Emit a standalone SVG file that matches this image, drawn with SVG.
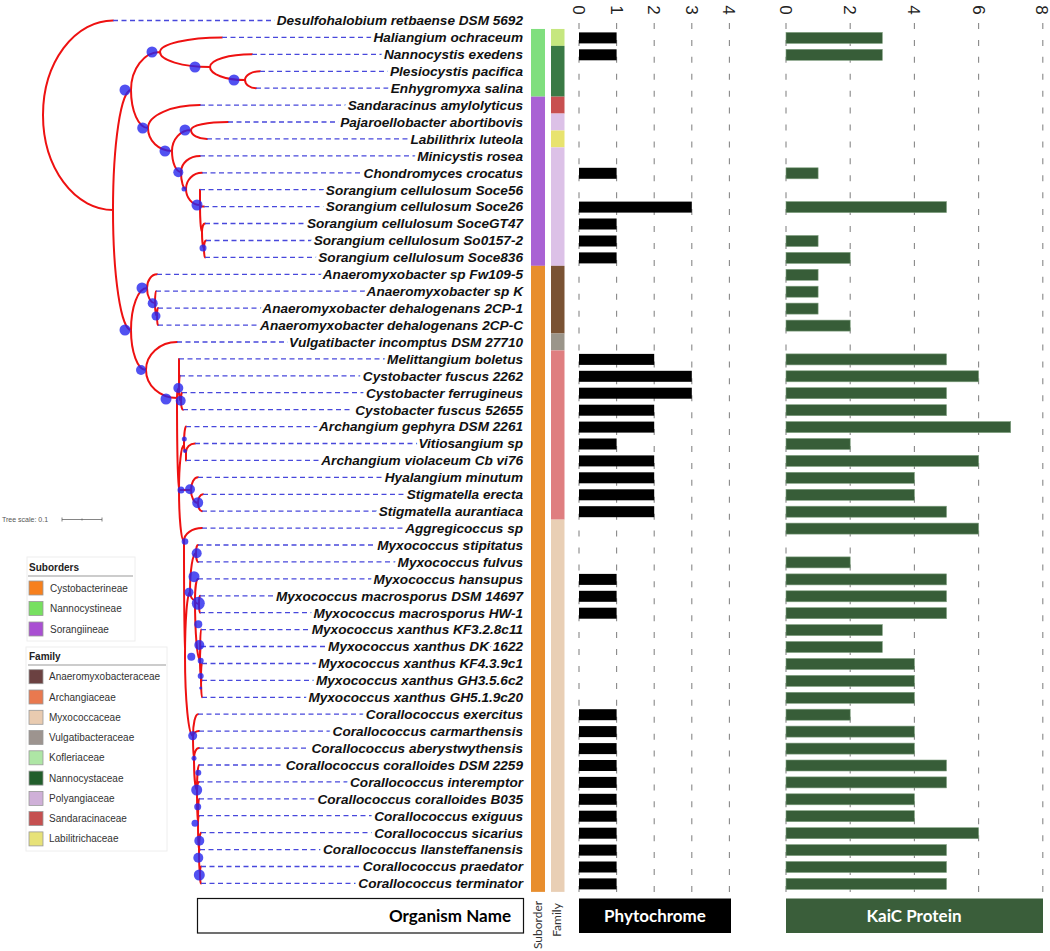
<svg xmlns="http://www.w3.org/2000/svg" width="1050" height="951" viewBox="0 0 1050 951">
<style>
.br{fill:none;stroke:#ee1111;stroke-width:2;stroke-linecap:round}
.bs{fill:#2626ee;fill-opacity:.8}
.lf{fill:none;stroke:#4848dc;stroke-width:1.3;stroke-dasharray:5 3.5}
.lb{font-family:"Liberation Sans",Arial,sans-serif;font-weight:bold;font-style:italic;font-size:13.6px;text-anchor:end;fill:#111;paint-order:stroke;stroke:#fff;stroke-width:7;stroke-linejoin:round}
.gr{stroke:#888;stroke-width:1.1;stroke-dasharray:6 10.92}
.ax{font-family:"Liberation Sans",Arial,sans-serif;font-size:17px;fill:#222;text-anchor:middle}
.ph{fill:#000;height:11px}
.kc{fill:#375d38;stroke:#7f9f7f;stroke-width:.6;height:11px}
.lg{font-family:"Liberation Sans",Arial,sans-serif;font-size:10px;fill:#333}
.lt{font-family:"Liberation Sans",Arial,sans-serif;font-size:10px;font-weight:bold;fill:#222}
.sw{stroke:#999;stroke-width:.8}
.hd{font-family:Lato,"Open Sans",sans-serif;font-weight:bold;font-size:17px}
.sm{font-family:Lato,"Open Sans",sans-serif;font-size:12px;fill:#333;text-anchor:middle}
</style>

<!-- axes -->
<g id="axes">
<line class="gr" x1="579" y1="23" x2="579" y2="892"/>
<line class="gr" x1="616.6" y1="23" x2="616.6" y2="892"/>
<line class="gr" x1="654.2" y1="23" x2="654.2" y2="892"/>
<line class="gr" x1="691.8" y1="23" x2="691.8" y2="892"/>
<line class="gr" x1="729.4" y1="23" x2="729.4" y2="892"/>
<line class="gr" x1="786" y1="23" x2="786" y2="892"/>
<line class="gr" x1="850.2" y1="23" x2="850.2" y2="892"/>
<line class="gr" x1="914.4" y1="23" x2="914.4" y2="892"/>
<line class="gr" x1="978.6" y1="23" x2="978.6" y2="892"/>
<line class="gr" x1="1042.8" y1="23" x2="1042.8" y2="892"/>
<text class="ax" transform="translate(573,10) rotate(90)">0</text>
<text class="ax" transform="translate(610.6,10) rotate(90)">1</text>
<text class="ax" transform="translate(648.2,10) rotate(90)">2</text>
<text class="ax" transform="translate(685.8,10) rotate(90)">3</text>
<text class="ax" transform="translate(723.4,10) rotate(90)">4</text>
<text class="ax" transform="translate(780,10) rotate(90)">0</text>
<text class="ax" transform="translate(844.2,10) rotate(90)">2</text>
<text class="ax" transform="translate(908.4,10) rotate(90)">4</text>
<text class="ax" transform="translate(972.6,10) rotate(90)">6</text>
<text class="ax" transform="translate(1035.8,10) rotate(90)">8</text>
</g>

<!-- connectors -->
<g id="connectors">
<path class="br" d="M43 115A70 94.5 0 0 1 113 20.5M43 115A70 95 0 0 0 113 210
M113 210A18 120 0 0 1 131 90M113 210A18 120 0 0 0 131 330
M131 90A29 38 0 0 1 160 52M131 90A17 38 0 0 0 148 128
M160 52A62 14.6 0 0 1 222 37.4M160 52A50 15 0 0 0 210 67
M210 67A42 12.7 0 0 1 252 54.3M210 67A35 13 0 0 0 245 80
M245 80A15 8.7 0 0 1 260 71.3M245 80A11 8.2 0 0 0 256 88.2
M148 128A52 22.9 0 0 1 200 105.1M148 128A24 23 0 0 0 172 151
M172 151A19 21 0 0 1 191 130M172 151A9 21 0 0 0 181 172
M191 130A37 8 0 0 1 228 122M191 130A16 8.9 0 0 0 207 138.9
M181 172A19 16.1 0 0 1 200 155.9M181 172A5 17 0 0 0 186 189
M186 189A16 16.2 0 0 1 202 172.8M186 189A14 16 0 0 0 200 205
M200 205L200 189.7M200 205A4 1.6 0 0 0 204 206.6M200 205A2 27 0 0 0 202 232
M202 232A3 8.5 0 0 1 205 223.5M202 232A2 16 0 0 0 204 248
M204 248A2 7.5 0 0 1 206 240.5M204 248A1 9.4 0 0 0 205 257.4
M131 330A16 42 0 0 1 147 288M131 330A15 40 0 0 0 146 370
M147 288A10 13.7 0 0 1 157 274.3M147 288A8 15 0 0 0 155 303
M155 303A1 11.8 0 0 1 156 291.2M155 303A2 13 0 0 0 157 316
M157 316A1 7.9 0 0 1 158 308.1M157 316A1 9.1 0 0 0 158 325.1
M146 370A31 28 0 0 1 177 342M146 370A31 28 0 0 0 177 398
M177 398A2 10 0 0 1 179 388M177 398A2 92 0 0 0 179 490
M179 388L179 358.9M179 388A1 12.2 0 0 1 180 375.8M179 388A2 13 0 0 0 181 401
M181 401A1 8.3 0 0 1 182 392.7M181 401A2 8.7 0 0 0 183 409.7
M179 490A5 45 0 0 1 184 445M179 490L191 490M179 490A5 51 0 0 0 184 541
M184 445A2 18.4 0 0 1 186 426.6M184 445A2 7 0 0 0 186 452
M186 452A9 8.5 0 0 1 195 443.5M186 452L186 460.4
M191 490A7 12.7 0 0 1 198 477.3M191 490A7 13 0 0 0 198 503
M198 503A5 8.7 0 0 1 203 494.3M198 503A4 8.2 0 0 0 202 511.2
M184 541A18 12.9 0 0 1 202 528.1M184 541A1 115 0 0 0 185 656
M185 656A5 64 0 0 1 190 592M185 656A8 80 0 0 0 193 736
M190 592A6 39 0 0 1 196 553M190 592A5 8 0 0 0 195 600
M196 553A2 8 0 0 1 198 545M196 553A2 8.9 0 0 0 198 561.9
M195 600A3 21.1 0 0 1 198 578.9M195 600A4 4 0 0 0 199 604M195 600A5 60 0 0 0 200 660
M199 604A1 8.2 0 0 1 200 595.8M199 604A1 8.7 0 0 0 200 612.7
M200 660A1 30.4 0 0 1 201 629.6M200 660A1 13.5 0 0 1 201 646.5M200 660A1 17 0 0 0 201 677
M201 677A1 13.5 0 0 1 202 663.5M201 677A1 3.4 0 0 0 202 680.4M201 677A1 20.3 0 0 0 202 697.3
M193 736A5 21.8 0 0 1 198 714.2M193 736A6 4.9 0 0 1 199 731.1M193 736A1 22 0 0 0 194 758
M194 758A5 9.9 0 0 1 199 748.1M194 758A3 32 0 0 0 197 790
M197 790A2 25 0 0 1 199 765M197 790A2 8.1 0 0 1 199 781.9M197 790A1 33 0 0 0 198 823
M198 823A1 24.2 0 0 1 199 798.8M198 823A1 7.3 0 0 1 199 815.7M198 823A1 27 0 0 0 199 850
M199 850A2 17.3 0 0 1 201 832.7M199 850L200 849.6M199 850A1 24 0 0 0 200 874
M200 874A1 7.5 0 0 1 201 866.5M200 874A1 9.4 0 0 0 201 883.4"/>
<path class="lf" d="M113 20.5H522M222 37.4H522M252 54.3H522M260 71.3H522M256 88.2H522M200 105.1H522M228 122H522M207 138.9H522M200 155.9H522M202 172.8H522M200 189.7H522M204 206.6H522M205 223.5H522M206 240.5H522M205 257.4H522M157 274.3H522M156 291.2H522M158 308.1H522M158 325.1H522M177 342H522M179 358.9H522M180 375.8H522M182 392.7H522M183 409.7H522M186 426.6H522M195 443.5H522M186 460.4H522M198 477.3H522M203 494.3H522M202 511.2H522M202 528.1H522M198 545H522M198 561.9H522M198 578.9H522M200 595.8H522M200 612.7H522M201 629.6H522M201 646.5H522M202 663.5H522M202 680.4H522M202 697.3H522M198 714.2H522M199 731.1H522M199 748.1H522M199 765H522M199 781.9H522M199 798.8H522M199 815.7H522M201 832.7H522M200 849.6H522M201 866.5H522M201 883.4H522"/>
</g>

<g id="bootstrap">
<circle class="bs" cx="152" cy="52" r="5.5"/><circle class="bs" cx="195" cy="67" r="5.5"/><circle class="bs" cx="234" cy="80" r="5.5"/>
<circle class="bs" cx="125" cy="90" r="5.5"/><circle class="bs" cx="142.7" cy="128" r="5.5"/><circle class="bs" cx="165" cy="151" r="5.5"/>
<circle class="bs" cx="185" cy="130" r="5.5"/><circle class="bs" cx="178.3" cy="172.3" r="5"/><circle class="bs" cx="184" cy="189" r="2.5"/>
<circle class="bs" cx="197" cy="205" r="5.5"/><circle class="bs" cx="203" cy="248" r="3.5"/>
<circle class="bs" cx="125" cy="330" r="5.5"/><circle class="bs" cx="142" cy="288" r="5.5"/><circle class="bs" cx="152.7" cy="303.3" r="5"/>
<circle class="bs" cx="156" cy="316" r="4.5"/><circle class="bs" cx="141" cy="370" r="5"/><circle class="bs" cx="166" cy="399" r="5.5"/>
<circle class="bs" cx="178.3" cy="388" r="5"/><circle class="bs" cx="180.7" cy="400.7" r="5"/><circle class="bs" cx="184.3" cy="439" r="2.5"/>
<circle class="bs" cx="185" cy="451" r="2"/><circle class="bs" cx="181" cy="490" r="3.5"/><circle class="bs" cx="190" cy="489.3" r="5"/>
<circle class="bs" cx="197.7" cy="502.7" r="5.5"/>
<circle class="bs" cx="185" cy="541.5" r="3.3"/><circle class="bs" cx="196.7" cy="553.3" r="5"/><circle class="bs" cx="194" cy="576.7" r="5.5"/>
<circle class="bs" cx="189" cy="592.3" r="4.5"/><circle class="bs" cx="198.3" cy="603.3" r="6.5"/><circle class="bs" cx="198.3" cy="624.3" r="4"/>
<circle class="bs" cx="199.3" cy="645" r="5"/><circle class="bs" cx="191.3" cy="656.7" r="4"/><circle class="bs" cx="200.7" cy="660.7" r="3"/>
<circle class="bs" cx="200.7" cy="676" r="3"/><circle class="bs" cx="200.7" cy="688" r="1.5"/>
<circle class="bs" cx="192.7" cy="735.7" r="4.5"/><circle class="bs" cx="194" cy="758.3" r="2.5"/><circle class="bs" cx="198.3" cy="772.7" r="3"/>
<circle class="bs" cx="196.7" cy="790" r="5.5"/><circle class="bs" cx="197.7" cy="806.7" r="3.5"/><circle class="bs" cx="195" cy="823.3" r="3.5"/>
<circle class="bs" cx="199.3" cy="840.7" r="5"/><circle class="bs" cx="198.3" cy="857.7" r="5"/><circle class="bs" cx="199.3" cy="875" r="5.5"/>
</g>

<!-- strips -->
<g id="suborder-strip">
<rect x="531" y="28.96" width="14" height="67.68" fill="#80df7e"/>
<rect x="531" y="96.64" width="14" height="169.2" fill="#a962d4"/>
<rect x="531" y="265.84" width="14" height="626.04" fill="#e88e2e"/>
</g>
<g id="family-strip">
<rect x="551" y="28.96" width="13.5" height="16.92" fill="#c6e77f"/>
<rect x="551" y="45.88" width="13.5" height="50.76" fill="#3a7a45"/>
<rect x="551" y="96.64" width="13.5" height="16.92" fill="#c85050"/>
<rect x="551" y="113.56" width="13.5" height="16.92" fill="#dcc1e7"/>
<rect x="551" y="130.48" width="13.5" height="16.92" fill="#e8e36e"/>
<rect x="551" y="147.4" width="13.5" height="118.44" fill="#dcc1e7"/>
<rect x="551" y="265.84" width="13.5" height="67.68" fill="#7a5334"/>
<rect x="551" y="333.52" width="13.5" height="16.92" fill="#9b958a"/>
<rect x="551" y="350.44" width="13.5" height="169.2" fill="#df7e80"/>
<rect x="551" y="519.64" width="13.5" height="372.24" fill="#e9cfb5"/>
</g>

<!-- taxa -->
<g id="taxon-0"><text class="lb" x="523" y="25.3">Desulfohalobium retbaense DSM 5692</text></g>
<g id="taxon-1"><text class="lb" x="523" y="42.2">Haliangium ochraceum</text><rect class="ph" x="579" y="32.4" width="37.6" height="11"/><rect class="kc" x="786" y="32.4" width="96.3" height="11"/></g>
<g id="taxon-2"><text class="lb" x="523" y="59.1">Nannocystis exedens</text><rect class="ph" x="579" y="49.3" width="37.6" height="11"/><rect class="kc" x="786" y="49.3" width="96.3" height="11"/></g>
<g id="taxon-3"><text class="lb" x="523" y="76.1">Plesiocystis pacifica</text></g>
<g id="taxon-4"><text class="lb" x="523" y="93">Enhygromyxa salina</text></g>
<g id="taxon-5"><text class="lb" x="523" y="109.9">Sandaracinus amylolyticus</text></g>
<g id="taxon-6"><text class="lb" x="523" y="126.8">Pajaroellobacter abortibovis</text></g>
<g id="taxon-7"><text class="lb" x="523" y="143.7">Labilithrix luteola</text></g>
<g id="taxon-8"><text class="lb" x="523" y="160.7">Minicystis rosea</text></g>
<g id="taxon-9"><text class="lb" x="523" y="177.6">Chondromyces crocatus</text><rect class="ph" x="579" y="167.8" width="37.6" height="11"/><rect class="kc" x="786" y="167.8" width="32.1" height="11"/></g>
<g id="taxon-10"><text class="lb" x="523" y="194.5">Sorangium cellulosum Soce56</text></g>
<g id="taxon-11"><text class="lb" x="523" y="211.4">Sorangium cellulosum Soce26</text><rect class="ph" x="579" y="201.6" width="112.8" height="11"/><rect class="kc" x="786" y="201.6" width="160.5" height="11"/></g>
<g id="taxon-12"><text class="lb" x="523" y="228.3">Sorangium cellulosum SoceGT47</text><rect class="ph" x="579" y="218.5" width="37.6" height="11"/></g>
<g id="taxon-13"><text class="lb" x="523" y="245.3">Sorangium cellulosum So0157-2</text><rect class="ph" x="579" y="235.5" width="37.6" height="11"/><rect class="kc" x="786" y="235.5" width="32.1" height="11"/></g>
<g id="taxon-14"><text class="lb" x="523" y="262.2">Sorangium cellulosum Soce836</text><rect class="ph" x="579" y="252.4" width="37.6" height="11"/><rect class="kc" x="786" y="252.4" width="64.2" height="11"/></g>
<g id="taxon-15"><text class="lb" x="523" y="279.1">Anaeromyxobacter sp Fw109-5</text><rect class="kc" x="786" y="269.3" width="32.1" height="11"/></g>
<g id="taxon-16"><text class="lb" x="523" y="296">Anaeromyxobacter sp K</text><rect class="kc" x="786" y="286.2" width="32.1" height="11"/></g>
<g id="taxon-17"><text class="lb" x="523" y="312.9">Anaeromyxobacter dehalogenans 2CP-1</text><rect class="kc" x="786" y="303.1" width="32.1" height="11"/></g>
<g id="taxon-18"><text class="lb" x="523" y="329.9">Anaeromyxobacter dehalogenans 2CP-C</text><rect class="kc" x="786" y="320.1" width="64.2" height="11"/></g>
<g id="taxon-19"><text class="lb" x="523" y="346.8">Vulgatibacter incomptus DSM 27710</text></g>
<g id="taxon-20"><text class="lb" x="523" y="363.7">Melittangium boletus</text><rect class="ph" x="579" y="353.9" width="75.2" height="11"/><rect class="kc" x="786" y="353.9" width="160.5" height="11"/></g>
<g id="taxon-21"><text class="lb" x="523" y="380.6">Cystobacter fuscus 2262</text><rect class="ph" x="579" y="370.8" width="112.8" height="11"/><rect class="kc" x="786" y="370.8" width="192.6" height="11"/></g>
<g id="taxon-22"><text class="lb" x="523" y="397.5">Cystobacter ferrugineus</text><rect class="ph" x="579" y="387.7" width="112.8" height="11"/><rect class="kc" x="786" y="387.7" width="160.5" height="11"/></g>
<g id="taxon-23"><text class="lb" x="523" y="414.5">Cystobacter fuscus 52655</text><rect class="ph" x="579" y="404.7" width="75.2" height="11"/><rect class="kc" x="786" y="404.7" width="160.5" height="11"/></g>
<g id="taxon-24"><text class="lb" x="523" y="431.4">Archangium gephyra DSM 2261</text><rect class="ph" x="579" y="421.6" width="75.2" height="11"/><rect class="kc" x="786" y="421.6" width="224.7" height="11"/></g>
<g id="taxon-25"><text class="lb" x="523" y="448.3">Vitiosangium sp</text><rect class="ph" x="579" y="438.5" width="37.6" height="11"/><rect class="kc" x="786" y="438.5" width="64.2" height="11"/></g>
<g id="taxon-26"><text class="lb" x="523" y="465.2">Archangium violaceum Cb vi76</text><rect class="ph" x="579" y="455.4" width="75.2" height="11"/><rect class="kc" x="786" y="455.4" width="192.6" height="11"/></g>
<g id="taxon-27"><text class="lb" x="523" y="482.1">Hyalangium minutum</text><rect class="ph" x="579" y="472.3" width="75.2" height="11"/><rect class="kc" x="786" y="472.3" width="128.4" height="11"/></g>
<g id="taxon-28"><text class="lb" x="523" y="499.1">Stigmatella erecta</text><rect class="ph" x="579" y="489.3" width="75.2" height="11"/><rect class="kc" x="786" y="489.3" width="128.4" height="11"/></g>
<g id="taxon-29"><text class="lb" x="523" y="516">Stigmatella aurantiaca</text><rect class="ph" x="579" y="506.2" width="75.2" height="11"/><rect class="kc" x="786" y="506.2" width="160.5" height="11"/></g>
<g id="taxon-30"><text class="lb" x="523" y="532.9">Aggregicoccus sp</text><rect class="kc" x="786" y="523.1" width="192.6" height="11"/></g>
<g id="taxon-31"><text class="lb" x="523" y="549.8">Myxococcus stipitatus</text></g>
<g id="taxon-32"><text class="lb" x="523" y="566.7">Myxococcus fulvus</text><rect class="kc" x="786" y="556.9" width="64.2" height="11"/></g>
<g id="taxon-33"><text class="lb" x="523" y="583.7">Myxococcus hansupus</text><rect class="ph" x="579" y="573.9" width="37.6" height="11"/><rect class="kc" x="786" y="573.9" width="160.5" height="11"/></g>
<g id="taxon-34"><text class="lb" x="523" y="600.6">Myxococcus macrosporus DSM 14697</text><rect class="ph" x="579" y="590.8" width="37.6" height="11"/><rect class="kc" x="786" y="590.8" width="160.5" height="11"/></g>
<g id="taxon-35"><text class="lb" x="523" y="617.5">Myxococcus macrosporus HW-1</text><rect class="ph" x="579" y="607.7" width="37.6" height="11"/><rect class="kc" x="786" y="607.7" width="160.5" height="11"/></g>
<g id="taxon-36"><text class="lb" x="523" y="634.4">Myxococcus xanthus KF3.2.8c11</text><rect class="kc" x="786" y="624.6" width="96.3" height="11"/></g>
<g id="taxon-37"><text class="lb" x="523" y="651.3">Myxococcus xanthus DK 1622</text><rect class="kc" x="786" y="641.5" width="96.3" height="11"/></g>
<g id="taxon-38"><text class="lb" x="523" y="668.3">Myxococcus xanthus KF4.3.9c1</text><rect class="kc" x="786" y="658.5" width="128.4" height="11"/></g>
<g id="taxon-39"><text class="lb" x="523" y="685.2">Myxococcus xanthus GH3.5.6c2</text><rect class="kc" x="786" y="675.4" width="128.4" height="11"/></g>
<g id="taxon-40"><text class="lb" x="523" y="702.1">Myxococcus xanthus GH5.1.9c20</text><rect class="kc" x="786" y="692.3" width="128.4" height="11"/></g>
<g id="taxon-41"><text class="lb" x="523" y="719">Corallococcus exercitus</text><rect class="ph" x="579" y="709.2" width="37.6" height="11"/><rect class="kc" x="786" y="709.2" width="64.2" height="11"/></g>
<g id="taxon-42"><text class="lb" x="523" y="735.9">Corallococcus carmarthensis</text><rect class="ph" x="579" y="726.1" width="37.6" height="11"/><rect class="kc" x="786" y="726.1" width="128.4" height="11"/></g>
<g id="taxon-43"><text class="lb" x="523" y="752.9">Corallococcus aberystwythensis</text><rect class="ph" x="579" y="743.1" width="37.6" height="11"/><rect class="kc" x="786" y="743.1" width="128.4" height="11"/></g>
<g id="taxon-44"><text class="lb" x="523" y="769.8">Corallococcus coralloides DSM 2259</text><rect class="ph" x="579" y="760" width="37.6" height="11"/><rect class="kc" x="786" y="760" width="160.5" height="11"/></g>
<g id="taxon-45"><text class="lb" x="523" y="786.7">Corallococcus interemptor</text><rect class="ph" x="579" y="776.9" width="37.6" height="11"/><rect class="kc" x="786" y="776.9" width="160.5" height="11"/></g>
<g id="taxon-46"><text class="lb" x="523" y="803.6">Corallococcus coralloides B035</text><rect class="ph" x="579" y="793.8" width="37.6" height="11"/><rect class="kc" x="786" y="793.8" width="128.4" height="11"/></g>
<g id="taxon-47"><text class="lb" x="523" y="820.5">Corallococcus exiguus</text><rect class="ph" x="579" y="810.7" width="37.6" height="11"/><rect class="kc" x="786" y="810.7" width="128.4" height="11"/></g>
<g id="taxon-48"><text class="lb" x="523" y="837.5">Corallococcus sicarius</text><rect class="ph" x="579" y="827.7" width="37.6" height="11"/><rect class="kc" x="786" y="827.7" width="192.6" height="11"/></g>
<g id="taxon-49"><text class="lb" x="523" y="854.4">Corallococcus llansteffanensis</text><rect class="ph" x="579" y="844.6" width="37.6" height="11"/><rect class="kc" x="786" y="844.6" width="160.5" height="11"/></g>
<g id="taxon-50"><text class="lb" x="523" y="871.3">Corallococcus praedator</text><rect class="ph" x="579" y="861.5" width="37.6" height="11"/><rect class="kc" x="786" y="861.5" width="160.5" height="11"/></g>
<g id="taxon-51"><text class="lb" x="523" y="888.2">Corallococcus terminator</text><rect class="ph" x="579" y="878.4" width="37.6" height="11"/><rect class="kc" x="786" y="878.4" width="160.5" height="11"/></g>

<!-- tree scale -->
<g id="tree-scale">
<text x="2" y="522" font-family="Liberation Sans, Arial, sans-serif" font-size="7" fill="#555">Tree scale: 0.1</text>
<path d="M62 519.5H102M62 517.5V521.5M102 517.5V521.5M82 518.5V520.5" stroke="#666" stroke-width=".8" fill="none"/>
</g>

<!-- legends -->
<g id="legend-suborders">
<rect x="27" y="557" width="108" height="84" fill="#fff" stroke="#eee"/>
<text class="lt" x="29" y="571">Suborders</text>
<line x1="28" y1="576" x2="133" y2="576" stroke="#999" stroke-width="1"/>
<rect class="sw" x="29" y="581" width="14" height="14" fill="#f7801e"/><text class="lg" x="50" y="591.5">Cystobacterineae</text>
<rect class="sw" x="29" y="601.5" width="14" height="14" fill="#77e060"/><text class="lg" x="50" y="612">Nannocystineae</text>
<rect class="sw" x="29" y="622" width="14" height="14" fill="#a94fd2"/><text class="lg" x="50" y="632.5">Sorangiineae</text>
</g>
<g id="legend-family">
<rect x="26" y="647" width="141" height="204" fill="#fff" stroke="#eee"/>
<text class="lt" x="29" y="660">Family</text>
<line x1="28" y1="665" x2="166" y2="665" stroke="#999" stroke-width="1"/>
<rect class="sw" x="29" y="669.7" width="14" height="14" fill="#6b4141"/><text class="lg" x="49" y="680.2">Anaeromyxobacteraceae</text>
<rect class="sw" x="29" y="690" width="14" height="14" fill="#e9794f"/><text class="lg" x="49" y="700.5">Archangiaceae</text>
<rect class="sw" x="29" y="710.3" width="14" height="14" fill="#e9cbb0"/><text class="lg" x="49" y="720.8">Myxococcaceae</text>
<rect class="sw" x="29" y="730.5" width="14" height="14" fill="#9d948f"/><text class="lg" x="49" y="741">Vulgatibacteraceae</text>
<rect class="sw" x="29" y="750.8" width="14" height="14" fill="#aee6a5"/><text class="lg" x="49" y="761.3">Kofleriaceae</text>
<rect class="sw" x="29" y="771.1" width="14" height="14" fill="#215e2b"/><text class="lg" x="49" y="781.6">Nannocystaceae</text>
<rect class="sw" x="29" y="791.4" width="14" height="14" fill="#cfb0d8"/><text class="lg" x="49" y="801.9">Polyangiaceae</text>
<rect class="sw" x="29" y="811.6" width="14" height="14" fill="#c55050"/><text class="lg" x="49" y="822.1">Sandaracinaceae</text>
<rect class="sw" x="29" y="831.9" width="14" height="14" fill="#e7e278"/><text class="lg" x="49" y="842.4">Labilitrichaceae</text>
</g>

<!-- footer labels -->
<g id="footer-organism">
<rect x="197.5" y="898.5" width="326" height="34.5" fill="#fff" stroke="#111" stroke-width="1.2"/>
<text class="hd" x="511" y="922" text-anchor="end" fill="#000">Organism Name</text>
</g>
<g id="footer-strips">
<text class="sm" transform="translate(542,925) rotate(-90)">Suborder</text>
<text class="sm" transform="translate(561,920) rotate(-90)">Family</text>
</g>
<g id="footer-phytochrome">
<rect x="579" y="898.5" width="152" height="34.5" fill="#000"/>
<text class="hd" x="655" y="922" text-anchor="middle" fill="#fff">Phytochrome</text>
</g>
<g id="footer-kaic">
<rect x="786" y="898.5" width="257" height="34.5" fill="#3a5e3a"/>
<text class="hd" x="914" y="922" text-anchor="middle" fill="#fff">KaiC Protein</text>
</g>
</svg>
